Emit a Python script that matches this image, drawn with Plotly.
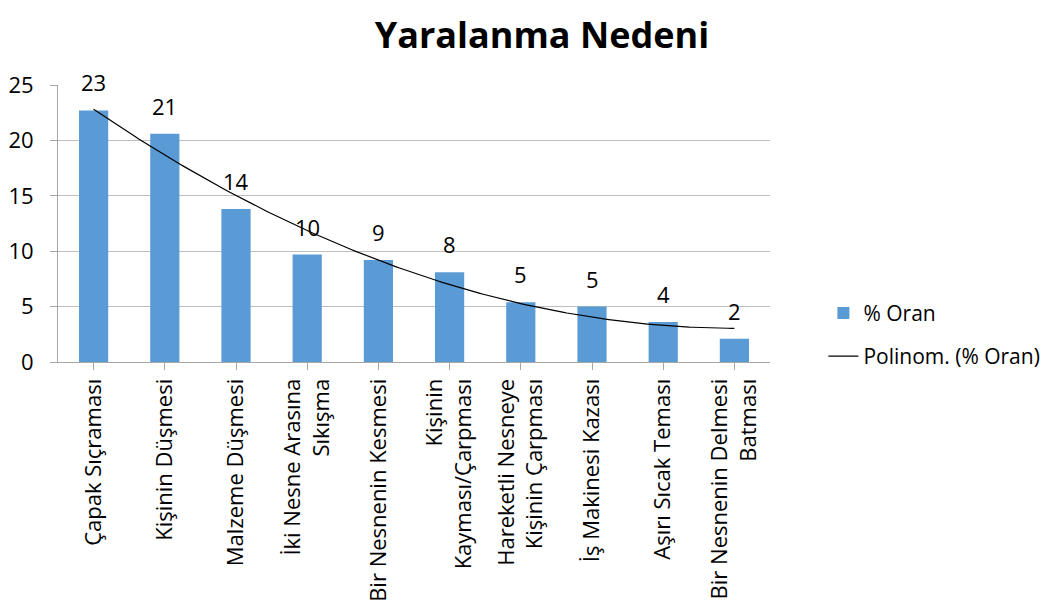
import numpy as np
import plotly.graph_objects as go

categories = [
    "Çapak Sıçraması",
    "Kişinin Düşmesi",
    "Malzeme Düşmesi",
    "İki Nesne Arasına<br>Sıkışma",
    "Bir Nesnenin Kesmesi",
    "Kişinin<br>Kayması/Çarpması",
    "Hareketli Nesneye<br>Kişinin Çarpması",
    "İş Makinesi Kazası",
    "Aşırı Sıcak Teması",
    "Bir Nesnenin Delmesi<br>Batması",
]
oran = [22.7, 20.6, 13.8, 9.7, 9.2, 8.1, 5.4, 5.0, 3.6, 2.1]
y_ticks = [0, 5, 10, 15, 20, 25]

FONT = "Open Sans"
FS = 22

# Polynomial (order 2) trendline, as in the original chart
idx = np.arange(1, len(oran) + 1)
coef = np.polyfit(idx, oran, 2)
xs = np.linspace(0, len(oran) - 1, 200)
ys = np.polyval(coef, xs + 1)

fig = go.Figure()
fig.add_trace(go.Bar(
    x=list(range(len(categories))), y=oran, name="% Oran",
    marker=dict(color="#5b9bd5", line=dict(width=0)),
    legendgroup="a",
))
fig.add_trace(go.Scatter(
    x=xs, y=ys, mode="lines", name="Polinom. (% Oran)",
    line=dict(color="#000000", width=1.2), legendgroup="b",
))

for i, v in enumerate(oran):
    fig.add_annotation(x=i, y=v, text=f"{v:.0f}", showarrow=False,
                       yanchor="bottom", yshift=11,
                       font=dict(family=FONT, size=FS, color="#000000"))

fig.update_layout(
    width=1047, height=599,
    margin=dict(l=50, r=285, t=77, b=245, autoexpand=False),
    paper_bgcolor="white", plot_bgcolor="white",
    title=dict(text="<b>Yaralanma Nedeni</b>", x=0.51, xanchor="center",
               yref="container", y=0.975, yanchor="top",
               font=dict(family=FONT, size=36, color="#000000")),
    bargap=0.59,
    showlegend=True,
    legend=dict(x=1.075, xanchor="left", y=0.25, yanchor="top",
                font=dict(family=FONT, size=21, color="#000000"),
                bgcolor="rgba(0,0,0,0)", tracegroupgap=13),
    font=dict(family=FONT, color="#000000"),
)
fig.update_xaxes(
    tickmode="array", tickvals=list(range(len(categories))), ticktext=categories,
    tickangle=-90, tickson="boundaries", ticks="outside", ticklen=7,
    tickcolor="#a6a6a6", showline=True, linecolor="#a6a6a6", linewidth=1,
    showgrid=False, range=[-0.5, len(categories) - 0.5], automargin=False,
    tickfont=dict(family=FONT, size=FS, color="#000000"),
)
fig.update_yaxes(
    range=[0, 25], tickvals=y_ticks, ticks="outside", ticklen=7,
    tickcolor="#a6a6a6", showline=True, linecolor="#a6a6a6", linewidth=1,
    showgrid=True, gridcolor="#bfbfbf", gridwidth=1, zeroline=False,
    automargin=False, ticklabelstandoff=12,
    tickfont=dict(family=FONT, size=FS, color="#000000"),
)

fig.write_html("out.html")
